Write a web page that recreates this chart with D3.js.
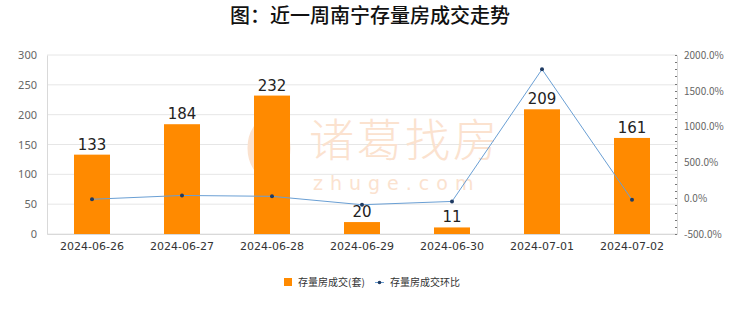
<!DOCTYPE html>
<html>
<head>
<meta charset="utf-8">
<script src="https://cdn.jsdelivr.net/npm/d3@7"></script>
<style>
  html, body { margin: 0; padding: 0; background: #fff; }
  #chart { width: 740px; height: 312px; }
  text { font-family: "Noto Sans CJK SC", "Noto Sans", sans-serif; }
</style>
</head>
<body>
<div id="chart"></div>
<script>
const days = ['2024-06-26', '2024-06-27', '2024-06-28', '2024-06-29', '2024-06-30', '2024-07-01', '2024-07-02']
const deals = [133, 184, 232, 20, 11, 209, 161]
const ratio = [-15.0, 38.3, 26.1, -91.4, -45.0, 1800.0, -23.0]
const leftTicks = [0, 50, 100, 150, 200, 250, 300]
const rightTicks = [-500, 0, 500, 1000, 1500, 2000]

const config = {
  width: 740,
  height: 312,
  margin: { top: 55, right: 63, bottom: 78, left: 47 },
  colors: {
    bar: '#ff8a00',
    line: '#6a9fd4',
    dot: '#1f3b63',
    text: '#333',
    tick: '#666',
    grid: '#e6e6e6',
    axis: '#d9d9d9',
    mark: '#fbe2cf'
  }
}

const width = config.width - config.margin.left - config.margin.right
const height = config.height - config.margin.top - config.margin.bottom

const root = d3.select('#chart')
  .append('svg')
  .attr('width', config.width)
  .attr('height', config.height)

root.append('text')
  .attr('x', config.width / 2)
  .attr('y', 23)
  .attr('text-anchor', 'middle')
  .text('图：近一周南宁存量房成交走势')
  .style('font-size', '20px')
  .style('font-weight', '500')
  .style('fill', '#111')

const svg = root.append('g')
  .attr('transform', `translate(${config.margin.left},${config.margin.top})`)

const x = d3.scaleBand().domain(days).range([0, width])
const yLeft = d3.scaleLinear().domain([0, 300]).range([height, 0])
const yRight = d3.scaleLinear().domain([-500, 2000]).range([height, 0])

// grille
svg.append('g')
  .selectAll('line')
  .data(leftTicks)
  .enter()
  .append('line')
  .attr('x1', 0)
  .attr('x2', width)
  .attr('y1', (d) => yLeft(d))
  .attr('y2', (d) => yLeft(d))
  .attr('stroke', config.colors.grid)

// filigrane
const mark = svg.append('g')
mark.append('text')
  .attr('x', 262)
  .attr('y', 102)
  .text('诸葛找房')
  .style('font-size', '45px')
  .style('font-weight', '300')
  .style('letter-spacing', '3px')
  .style('fill', config.colors.mark)
mark.append('text')
  .attr('x', 266)
  .attr('y', 135)
  .text('zhuge.com')
  .style('font-size', '19px')
  .style('font-family', '"DejaVu Sans", sans-serif')
  .style('letter-spacing', '7px')
  .style('fill', config.colors.mark)
mark.append('ellipse')
  .attr('cx', 222)
  .attr('cy', 93)
  .attr('rx', 18)
  .attr('ry', 27)
  .attr('fill', 'none')
  .attr('stroke', config.colors.mark)
  .attr('stroke-width', 7)

// axes
svg.append('g')
  .attr('transform', `translate(0,${height})`)
  .call(d3.axisBottom(x).tickSize(0).tickPadding(8))
  .call((g) => {
    g.select('.domain').attr('stroke', config.colors.axis)
    g.selectAll('.tick text')
      .style('fill', config.colors.text)
      .style('font-size', '11px')
      .style('font-family', '"DejaVu Sans", sans-serif')
  })

svg.append('g')
  .call(d3.axisLeft(yLeft).tickValues(leftTicks).tickSize(0).tickPadding(10))
  .call((g) => {
    g.select('.domain').attr('stroke', config.colors.axis)
    g.selectAll('.tick text')
      .style('fill', config.colors.tick)
      .style('font-size', '11px')
      .style('font-family', '"Noto Sans", sans-serif')
  })

svg.append('g')
  .attr('transform', `translate(${width},0)`)
  .call(d3.axisRight(yRight).tickValues(rightTicks).tickSize(0).tickPadding(7)
    .tickFormat((d) => `${d.toFixed(1)}%`))
  .call((g) => {
    g.select('.domain').attr('stroke', config.colors.axis)
    g.selectAll('.tick text')
      .style('fill', config.colors.tick)
      .style('font-size', '10px')
      .style('font-family', '"Noto Sans CJK SC", sans-serif')
  })

// petits traits de l'axe droit
svg.append('g')
  .selectAll('line')
  .data(d3.range(-500, 2001, 100))
  .enter()
  .append('line')
  .attr('x1', width - 2)
  .attr('x2', width)
  .attr('y1', (d) => Math.round(yRight(d)) + 0.5)
  .attr('y2', (d) => Math.round(yRight(d)) + 0.5)
  .attr('stroke', '#777')

// barres
const barW = x.bandwidth() * 0.4
svg.append('g')
  .selectAll('rect')
  .data(days)
  .enter()
  .append('rect')
  .attr('x', (d) => x(d) + (x.bandwidth() - barW) / 2)
  .attr('y', (d, i) => yLeft(deals[i]))
  .attr('width', barW)
  .attr('height', (d, i) => height - yLeft(deals[i]))
  .attr('fill', config.colors.bar)

svg.append('g')
  .selectAll('text')
  .data(days)
  .enter()
  .append('text')
  .attr('x', (d) => x(d) + x.bandwidth() / 2)
  .attr('y', (d, i) => yLeft(deals[i]) - 5)
  .attr('text-anchor', 'middle')
  .text((d, i) => deals[i])
  .style('font-size', '15px')
  .style('font-family', '"DejaVu Sans", sans-serif')
  .style('fill', '#222')

// courbe
const pts = days.map((d, i) => [x(d) + x.bandwidth() / 2, yRight(ratio[i])])
svg.append('path')
  .attr('d', d3.line()(pts))
  .attr('fill', 'none')
  .attr('stroke', config.colors.line)
  .attr('stroke-width', 1)

svg.append('g')
  .selectAll('circle')
  .data(pts)
  .enter()
  .append('circle')
  .attr('cx', (d) => d[0])
  .attr('cy', (d) => d[1])
  .attr('r', 2)
  .attr('fill', config.colors.dot)

// légende
const legend = root.append('g').attr('transform', 'translate(284,282)')
legend.append('rect')
  .attr('x', 0)
  .attr('y', -4)
  .attr('width', 8)
  .attr('height', 8)
  .attr('fill', config.colors.bar)
legend.append('text')
  .attr('x', 14)
  .attr('y', 4)
  .text('存量房成交(套)')
  .style('font-size', '10px')
  .style('fill', config.colors.text)
legend.append('line')
  .attr('x1', 91)
  .attr('x2', 100)
  .attr('y1', 0.5)
  .attr('y2', 0.5)
  .attr('stroke', config.colors.line)
legend.append('circle')
  .attr('cx', 95.5)
  .attr('cy', 0.5)
  .attr('r', 1.8)
  .attr('fill', config.colors.dot)
legend.append('text')
  .attr('x', 106)
  .attr('y', 4)
  .text('存量房成交环比')
  .style('font-size', '10px')
  .style('fill', config.colors.text)
</script>
</body>
</html>
